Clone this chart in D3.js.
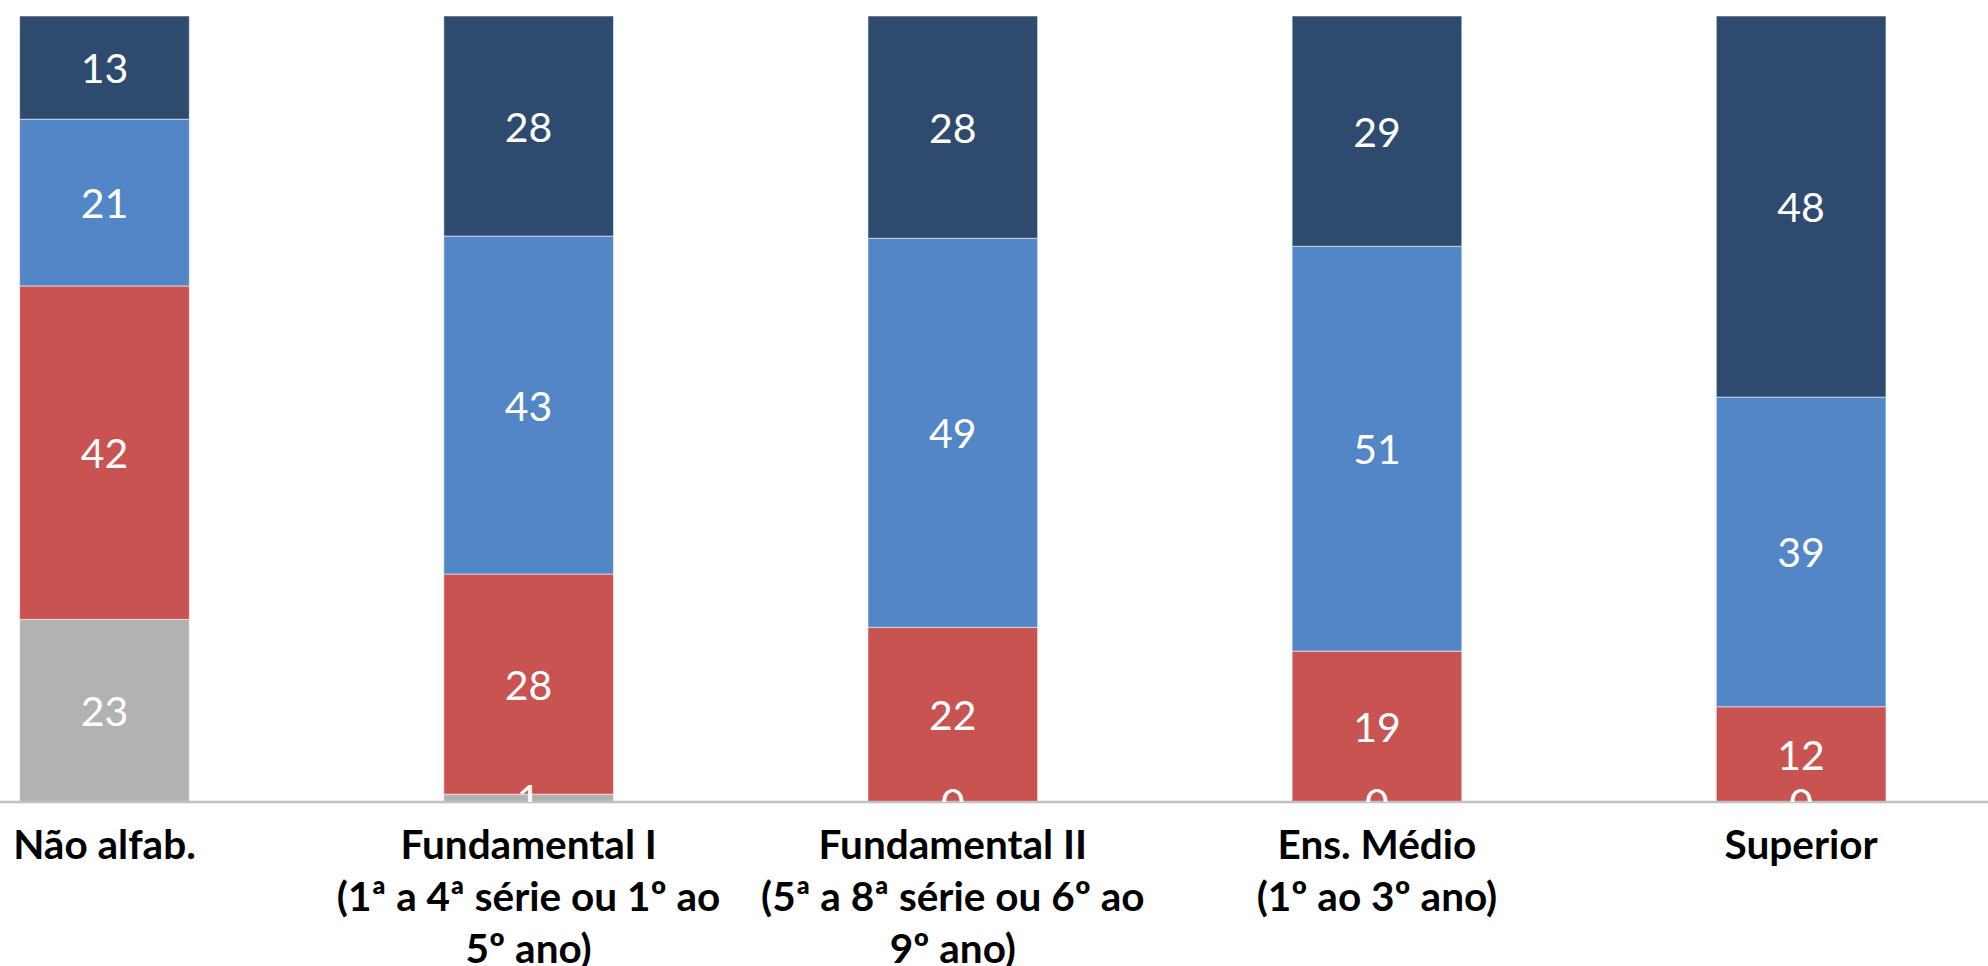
<!DOCTYPE html>
<html>
<head>
<meta charset="utf-8">
<script src="https://cdn.jsdelivr.net/npm/d3@7"></script>
<style>
  html, body { margin: 0; padding: 0; background: #ffffff; }
  svg { display: block; }
</style>
</head>
<body>
<svg id="chart" width="1988" height="966"></svg>
<script>
// ---- data ----
const categories = ["Não alfab.", "Fundamental I", "Fundamental II", "Ens. Médio", "Superior"];
const categoryLines = [
  ["Não alfab."],
  ["Fundamental I", "(1ª a 4ª série ou 1º ao", "5º ano)"],
  ["Fundamental II", "(5ª a 8ª série ou 6º ao", "9º ano)"],
  ["Ens. Médio", "(1º ao 3º ano)"],
  ["Superior"]
];
const seriesKeys = ["s1", "s2", "s3", "s4"];
const s1Values = [23, 1, 0, 0, 0];      // gray (bottom)
const s2Values = [42, 28, 22, 19, 12];  // red
const s3Values = [21, 43, 49, 51, 39];  // light blue
const s4Values = [13, 28, 28, 29, 48];  // navy (top)
const seriesColors = ["#b2b2b2", "#c85350", "#5386c6", "#2e4a6e"];

// ---- layout ----
const W = 1988, H = 966;
const plotTop = 16, plotBottom = 802;
const bandLeft = -107.6, bandRight = 2013.2;

const rows = categories.map((c, i) => ({
  cat: c, s1: s1Values[i], s2: s2Values[i], s3: s3Values[i], s4: s4Values[i]
}));

const stack = d3.stack().keys(seriesKeys).offset(d3.stackOffsetExpand);
const stacked = stack(rows);

const x = d3.scaleBand().domain(categories).range([bandLeft, bandRight])
  .paddingInner(0.6).paddingOuter(0.3);
const y = d3.scaleLinear().domain([0, 1]).range([plotBottom, plotTop]);
const color = d3.scaleOrdinal().domain(seriesKeys).range(seriesColors);

const svg = d3.select("#chart");

svg.append("defs").append("clipPath").attr("id", "plotClip")
  .append("rect").attr("x", 0).attr("y", plotTop).attr("width", W).attr("height", plotBottom - plotTop);

const gBars = svg.append("g").attr("clip-path", "url(#plotClip)");
gBars.selectAll("g.series").data(stacked).join("g")
  .attr("class", "series")
  .attr("fill", d => color(d.key))
  .selectAll("rect").data(d => d).join("rect")
  .attr("x", d => x(d.data.cat))
  .attr("width", x.bandwidth())
  .attr("y", d => y(d[1]))
  .attr("height", d => Math.max(0, y(d[0]) - y(d[1])))
  .attr("stroke", "#ffffff")
  .attr("stroke-opacity", 0.55)
  .attr("stroke-width", 1);

// axis line (category axis)
const xAxis = d3.axisBottom(x).tickSize(0).tickFormat("");
const axisG = svg.append("g").attr("transform", `translate(0,${plotBottom})`).call(xAxis);
axisG.select(".domain").remove();
axisG.append("line").attr("x1", 0).attr("x2", W).attr("y1", 0).attr("y2", 0)
  .attr("stroke", "#c0c0c0").attr("stroke-width", 2.5);

// data labels
const gLabels = svg.append("g").attr("clip-path", "url(#plotClip)");
stacked.forEach(series => {
  gLabels.selectAll(null).data(series).join("text")
    .attr("x", d => x(d.data.cat) + x.bandwidth() / 2)
    .attr("y", d => (y(d[0]) + y(d[1])) / 2)
    .attr("text-anchor", "middle")
    .attr("dominant-baseline", "central")
    .attr("fill", "#ffffff")
    .style("font-family", "Lato, 'Open Sans', sans-serif")
    .style("font-size", "41px")
    .text(d => d.data[series.key]);
});

// category labels
const gCats = svg.append("g");
categories.forEach((c, i) => {
  const t = gCats.append("text")
    .attr("x", x(c) + x.bandwidth() / 2)
    .attr("y", 859)
    .attr("text-anchor", "middle")
    .attr("fill", "#000000")
    .style("font-family", "Lato, 'Open Sans', sans-serif")
    .style("font-weight", "bold")
    .style("font-size", "40.5px");
  categoryLines[i].forEach((line, j) => {
    t.append("tspan").attr("x", x(c) + x.bandwidth() / 2).attr("y", 859 + j * 52).text(line);
  });
});
</script>
</body>
</html>
